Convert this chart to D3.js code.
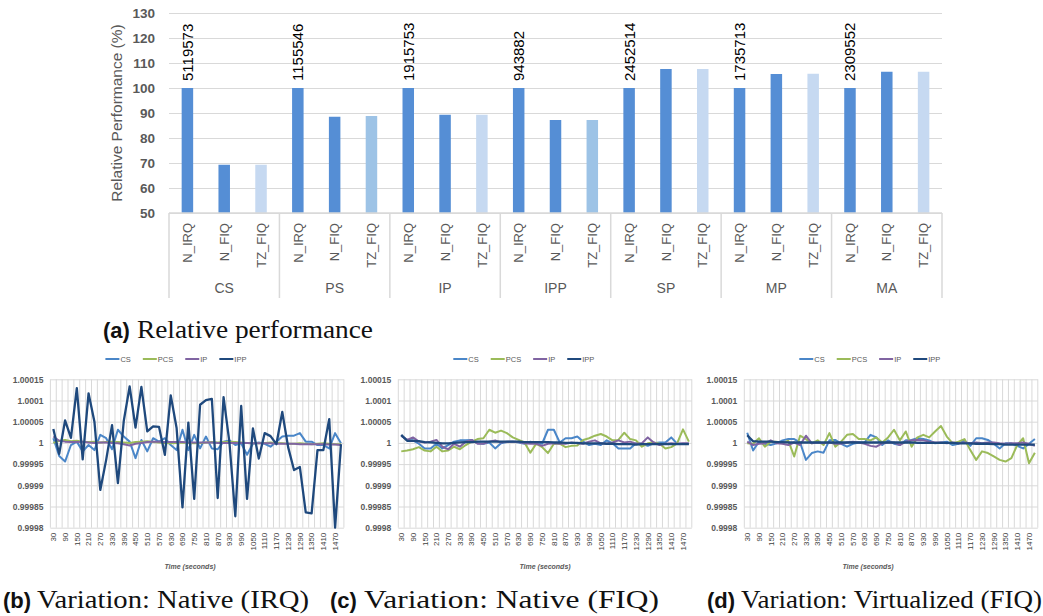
<!DOCTYPE html>
<html>
<head>
<meta charset="utf-8">
<script src="https://cdn.jsdelivr.net/npm/d3@7"></script>
<style>
  body { margin: 0; background: #fff; }
  svg { display: block; }
  text { font-family: "Liberation Sans", Arial, sans-serif; }
  .serif { font-family: "Liberation Serif", "DejaVu Serif", serif; }
</style>
</head>
<body>
<div id="figure"></div>
<script>
// ---------- data: (a) relative performance ----------
const benchmarks = ["CS", "PS", "IP", "IPP", "SP", "MP", "MA"];
const modes = ["N_IRQ", "N_FIQ", "TZ_FIQ"];
const baseCounts = [5119573, 1155546, 1915753, 943882, 2452514, 1735713, 2309552];
const perfNIrq = [100, 100, 100, 100, 100, 100, 100];
const perfNFiq = [69.3, 88.5, 89.3, 87.2, 107.6, 105.6, 106.5];
const perfTzFiq = [69.3, 88.8, 89.3, 87.2, 107.6, 105.7, 106.5];
const perfTicks = [50, 60, 70, 80, 90, 100, 110, 120, 130];

// ---------- data: (b)-(d) variation over time ----------
const times = [30, 60, 90, 120, 150, 180, 210, 240, 270, 300, 330, 360, 390, 420, 450, 480, 510, 540, 570, 600,
  630, 660, 690, 720, 750, 780, 810, 840, 870, 900, 930, 960, 990, 1020, 1050, 1080, 1110, 1140, 1170, 1200,
  1230, 1260, 1290, 1320, 1350, 1380, 1410, 1440, 1470, 1500];
const variationTicks = [0.9998, 0.99985, 0.9999, 0.99995, 1, 1.00005, 1.0001, 1.00015];
const seriesNames = ["CS", "PCS", "IP", "IPP"];

// (b) Native (IRQ)
const irqCS = [1.000011, 0.999969, 0.999956, 0.999995, 1.000003, 0.99998, 0.999995, 0.999983, 1.000019, 1.000011,
  0.999985, 1.000031, 1.000015, 1.000003, 0.999964, 1.000007, 0.99998, 1.000011, 1.000003, 1.000011,
  0.999995, 0.999983, 1.000031, 0.999983, 1.000019, 0.999987, 1.000015, 0.999987, 0.999985, 1.000003,
  1.000006, 0.999995, 0.999999, 0.999972, 0.999998, 1.000001, 0.999998, 0.999991, 1.000003, 1.000015,
  1.000017, 1.000017, 1.000023, 1.000003, 1.000003, 0.999995, 0.999995, 0.999987, 1.000023, 0.999999];
const irqPCS = [1.0, 1.000005, 1.000007, 1.000004, 1.000005, 1.000003, 1.000002, 1.000003, 1.000001, 1.000002,
  1.000003, 1.000002, 1.000001, 1.0, 1.000002, 1.000003, 1.000004, 1.000002, 1.000001, 1.0,
  0.999999, 1.0, 1.000001, 1.0, 0.999999, 1.0, 1.000001, 1.000002, 1.000001, 1.000002,
  1.000003, 1.000002, 1.000001, 1.0, 0.999999, 0.999999, 1.0, 1.000001, 1.0, 0.999999,
  0.999998, 0.999998, 0.999999, 0.999998, 0.999997, 0.999998, 0.999999, 0.999998, 0.999997, 0.999997];
const irqIP = [1.000015, 1.000005, 1.000003, 1.000002, 1.000002, 1.000003, 1.000001, 1.0, 1.000001, 1.000001,
  1.0, 0.999999, 0.999997, 0.999994, 0.999998, 1.0, 1.000002, 1.000003, 1.000003, 1.000002,
  1.000002, 1.000002, 1.000002, 1.000001, 1.000001, 1.000001, 1.000001, 1.000001, 1.0, 1.0,
  1.0, 1.0, 1.0, 1.0, 0.999999, 0.999999, 0.999999, 0.999999, 0.999998, 0.999998,
  0.999998, 0.999998, 0.999997, 0.999997, 0.999997, 0.999997, 0.999997, 0.999996, 0.999996, 0.999995];
const irqIPP = [1.000033, 0.999974, 1.000053, 1.000012, 1.000129, 0.999961, 1.000117, 1.00005, 0.999889, 0.99996,
  1.000042, 0.999905, 1.000052, 1.000133, 1.000036, 1.000132, 1.000027, 1.000039, 1.000038, 0.999972,
  1.000112, 1.000035, 0.999848, 1.000048, 0.999868, 1.00009, 1.000101, 1.000104, 0.99987, 1.000108,
  1.000001, 0.999827, 1.000087, 0.999868, 1.000034, 0.999963, 1.000023, 1.000016, 0.999997, 1.000073,
  0.99999, 0.999936, 0.999943, 0.999836, 0.999834, 0.999983, 0.999983, 1.000056, 0.9998, 0.999997];

// (c) Native (FIQ)
const fiqCS = [1.000017, 1.000007, 1.000006, 0.999998, 0.999987, 0.999987, 0.999998, 0.999987, 0.999995, 1.000003,
  1.000006, 1.000006, 1.000007, 0.999999, 0.999998, 1.000001, 0.999987, 0.999999, 1.000002, 1.000003,
  1.000001, 0.999998, 1.000003, 0.999999, 0.999998, 1.000031, 1.000031, 1.000001, 1.000011, 1.000011,
  1.000015, 1.000003, 0.999995, 0.999998, 0.999995, 1.000006, 0.999999, 0.999987, 0.999987, 0.999987,
  0.999999, 0.999998, 0.999993, 0.999999, 1.000001, 1.000001, 1.000013, 0.999998, 0.999998, 0.999998];
const fiqPCS = [0.99998, 0.999982, 0.999985, 0.99999, 0.999982, 0.99998, 0.999991, 0.99998, 0.999982, 0.999991,
  0.999985, 0.999995, 1.000003, 1.000009, 1.000011, 1.000031, 1.000024, 1.000029, 1.000023, 1.000013,
  1.000007, 1.000001, 0.999977, 0.999998, 0.99999, 0.999976, 0.999998, 0.999998, 0.99999, 0.999993,
  0.999994, 1.000007, 1.000011, 1.000017, 1.000021, 1.000015, 1.000006, 1.000007, 1.000024, 1.000009,
  1.000006, 0.999991, 0.999999, 1.000001, 0.999998, 0.999987, 0.99999, 0.999999, 1.000032, 1.000003];
const fiqIP = [1.000017, 1.000007, 1.000013, 1.000003, 1.000001, 1.000003, 1.000007, 0.999991, 0.999985, 0.999998,
  0.999991, 1.000003, 1.000007, 0.999998, 0.999998, 1.000003, 1.000006, 1.000001, 1.000003, 1.000003,
  1.000002, 0.999999, 0.999998, 0.999998, 0.999993, 0.999998, 0.999999, 0.999998, 0.999998, 1.000001,
  0.999999, 0.999998, 1.000003, 1.000006, 0.999999, 0.999998, 1.000001, 1.000006, 1.000001, 1.000003,
  0.999998, 0.999999, 1.000013, 1.000001, 0.999995, 0.999998, 0.999999, 0.999998, 0.999999, 0.999999];
const fiqIPP = [1.000019, 1.000005, 1.000005, 1.000004, 1.000002, 1.000001, 1.0, 0.999999, 0.999999, 1.0,
  1.000001, 1.000002, 1.000002, 1.000003, 1.000003, 1.000003, 1.000003, 1.000003, 1.000003, 1.000003,
  1.000003, 1.000002, 1.000002, 1.000002, 1.000002, 1.000002, 1.000001, 1.000001, 1.0, 1.0,
  1.0, 0.999999, 0.999999, 0.999999, 0.999999, 0.999998, 0.999998, 0.999997, 0.999997, 0.999997,
  0.999996, 0.999997, 0.999997, 0.999997, 0.999997, 0.999997, 0.999997, 0.999997, 0.999997, 0.999997];

// (d) Virtualized (FIQ)
const virtCS = [1.000024, 0.999982, 1.000003, 0.999998, 0.999995, 0.999999, 1.000006, 1.000009, 1.000009, 1.000001,
  0.99996, 0.999976, 0.99998, 0.999977, 1.000006, 1.000007, 0.999998, 0.999991, 0.999998, 1.000001,
  1.000001, 1.000019, 1.000013, 0.999995, 1.000006, 0.999998, 0.999995, 1.000006, 1.000007, 1.000011,
  1.000009, 1.000006, 0.999999, 1.000001, 1.000003, 0.999995, 0.999998, 1.000006, 0.999993, 1.000011,
  1.000011, 1.000007, 0.999998, 0.999987, 0.999999, 0.999999, 0.999993, 0.999987, 0.999998, 1.000009];
const virtPCS = [0.999999, 0.999998, 1.000011, 0.999991, 1.000003, 1.000003, 0.999999, 1.000005, 0.999968, 1.000017,
  1.000009, 0.999999, 1.000006, 0.999995, 1.000023, 0.999991, 1.000003, 1.000019, 1.000021, 1.000009,
  1.000009, 1.000006, 1.000013, 1.000001, 1.000013, 1.000031, 1.000006, 1.000027, 0.999991, 1.000013,
  1.000019, 1.000013, 1.000027, 1.00004, 1.000015, 0.999999, 1.000003, 1.000009, 0.999983, 0.99996,
  0.99998, 0.999976, 0.999968, 0.99996, 0.999956, 0.999964, 0.999995, 1.000011, 0.999952, 0.999977];
const virtIP = [1.000003, 0.999995, 0.999998, 0.999999, 1.000006, 0.999999, 0.999998, 0.999995, 1.000001, 0.999995,
  1.000017, 0.999999, 1.000001, 0.999999, 1.000001, 0.999998, 0.999998, 1.000001, 1.000003, 1.000001,
  0.999998, 0.999993, 0.999991, 0.999999, 1.000001, 1.000001, 0.999995, 1.000003, 1.000006, 1.000007,
  1.000006, 1.000003, 1.000001, 1.000001, 0.999999, 1.000001, 0.999999, 1.000001, 0.999999, 1.000001,
  0.999999, 1.000001, 1.000001, 0.999999, 0.999998, 0.999999, 0.999999, 1.000001, 0.999998, 0.999993];
const virtIPP = [1.000018, 1.000004, 1.000003, 1.000003, 1.000003, 1.000002, 1.000002, 1.000001, 1.000001, 1.000001,
  1.000001, 1.000001, 1.000001, 1.000001, 1.000001, 1.000001, 1.000001, 1.000001, 1.000001, 1.000001,
  1.000001, 1.000001, 1.000001, 1.000001, 1.000001, 1.000001, 1.000001, 1.000001, 1.000001, 1.0,
  1.0, 1.0, 1.0, 1.0, 1.0, 1.0, 0.999999, 0.999999, 0.999999, 0.999998,
  0.999998, 0.999998, 0.999997, 0.999997, 0.999996, 0.999996, 0.999996, 0.999996, 0.999996, 0.999996];

// ---------- styles ----------
const barBlue = "#558ed5";
const tzColors = ["#c6d9f1", "#9dc3e6", "#c6d9f1", "#9dc3e6", "#c6d9f1", "#c6d9f1", "#c6d9f1"];
const lineColors = ["#4a86c8", "#9bbb59", "#8064a2", "#1f497d"];
const gridColor = "#d9d9d9";
const labelGray = "#595959";

const svg = d3.select("#figure")
  .append("svg")
  .attr("width", 1043)
  .attr("height", 616);

// ================= (a) bar chart =================
const dimensions = {
  left: 169,
  right: 942,
  top: 13,
  bottom: 213,
};

const yScale = d3.scaleLinear()
  .domain([50, 130])
  .range([dimensions.bottom, dimensions.top]);

const groupScale = d3.scaleBand()
  .domain(benchmarks)
  .range([dimensions.left, dimensions.right]);

const modeScale = d3.scaleBand()
  .domain(modes)
  .range([0, groupScale.bandwidth()]);

const barWidth = 11.5;
const perfByMode = [perfNIrq, perfNFiq, perfTzFiq];

// gridlines
const grid = svg.append("g")
  .attr("transform", `translate(${dimensions.left},0)`)
  .call(d3.axisLeft(yScale).tickValues(perfTicks).tickSize(-(dimensions.right - dimensions.left)).tickFormat(""));
grid.select(".domain").remove();
grid.selectAll("line").attr("stroke", gridColor).attr("stroke-width", 1.2);

// y labels
const yAxis = svg.append("g")
  .attr("transform", `translate(${dimensions.left},0)`)
  .call(d3.axisLeft(yScale).tickValues(perfTicks).tickSize(0).tickPadding(14));
yAxis.select(".domain").remove();
yAxis.selectAll("text")
  .attr("fill", labelGray)
  .style("font-size", "13.5px")
  .style("font-weight", "bold")
  .style("font-family", "'Liberation Sans', Arial, sans-serif");

svg.append("text")
  .text("Relative Performance (%)")
  .attr("transform", `translate(117,${(dimensions.top + dimensions.bottom) / 2}) rotate(-90)`)
  .attr("text-anchor", "middle")
  .attr("dy", "0.35em")
  .attr("fill", labelGray)
  .style("font-size", "15.5px");

// bars
const barData = [];
benchmarks.forEach((b, i) => {
  modes.forEach((m, j) => {
    barData.push({ bench: b, mode: m, value: perfByMode[j][i], idx: i, modeIdx: j });
  });
});

const barCenter = d => groupScale(d.bench) + modeScale(d.mode) + modeScale.bandwidth() / 2;

svg.append("g").selectAll("rect")
  .data(barData)
  .join("rect")
    .attr("x", d => barCenter(d) - barWidth / 2)
    .attr("y", d => yScale(d.value))
    .attr("width", barWidth)
    .attr("height", d => yScale(50) - yScale(d.value))
    .attr("fill", d => d.modeIdx === 2 ? tzColors[d.idx] : barBlue);

// baseline axis
svg.append("line")
  .attr("x1", dimensions.left).attr("x2", dimensions.right)
  .attr("y1", dimensions.bottom).attr("y2", dimensions.bottom)
  .attr("stroke", gridColor).attr("stroke-width", 1.5);

// absolute values above N_IRQ bars
svg.append("g").selectAll("text")
  .data(barData.filter(d => d.modeIdx === 0))
  .join("text")
    .text(d => baseCounts[d.idx])
    .attr("transform", d => `translate(${barCenter(d)},${yScale(d.value) - 7}) rotate(-90)`)
    .attr("dy", "0.36em")
    .attr("fill", "#000")
    .style("font-size", "15px");

// category tick labels
svg.append("g").selectAll("text")
  .data(barData)
  .join("text")
    .text(d => d.mode)
    .attr("transform", d => `translate(${barCenter(d)},${dimensions.bottom + 10}) rotate(-90)`)
    .attr("text-anchor", "end")
    .attr("dy", "0.36em")
    .attr("fill", labelGray)
    .style("font-size", "13px");

// group separators and labels
const seps = benchmarks.map(b => groupScale(b)).concat([dimensions.right]);
svg.append("g").selectAll("line")
  .data(seps)
  .join("line")
    .attr("x1", d => d).attr("x2", d => d)
    .attr("y1", dimensions.bottom).attr("y2", 298)
    .attr("stroke", gridColor).attr("stroke-width", 1.5);

svg.append("g").selectAll("text")
  .data(benchmarks)
  .join("text")
    .text(d => d)
    .attr("x", d => groupScale(d) + groupScale.bandwidth() / 2)
    .attr("y", 293)
    .attr("text-anchor", "middle")
    .attr("fill", labelGray)
    .style("font-size", "14px");

// caption helper
function caption(x, y, tag, rest, restLen) {
  svg.append("text")
    .text(tag)
    .attr("x", x).attr("y", y)
    .attr("fill", "#111")
    .style("font-size", "22px")
    .style("font-weight", "bold")
    .style("font-family", "'Liberation Sans Narrow', 'Liberation Sans', sans-serif");
  svg.append("text")
    .text(rest)
    .attr("class", "serif")
    .attr("x", x + 34).attr("y", y)
    .attr("textLength", restLen)
    .attr("lengthAdjust", "spacingAndGlyphs")
    .attr("fill", "#111")
    .style("font-size", "25px");
}

caption(103, 338, "(a)", "Relative performance", 236);

// ================= (b)-(d) line charts =================
const panels = [
  { left: 50.4, values: [irqCS, irqPCS, irqIP, irqIPP], title: 190, tag: "(b)", text: "Variation: Native (IRQ)", capX: 3, capLen: 272 },
  { left: 398.3, values: [fiqCS, fiqPCS, fiqIP, fiqIPP], title: 545, tag: "(c)", text: "Variation: Native (FIQ)", capX: 330, capLen: 295 },
  { left: 744.3, values: [virtCS, virtPCS, virtIP, virtIPP], title: 868, tag: "(d)", text: "Variation: Virtualized (FIQ)", capX: 707, capLen: 301 },
];

const plotW = 293.5;
const plotTop = 379.3;
const plotBottom = 527.7;

function drawVariation(panel) {
  const g = svg.append("g");

  const xScale = d3.scaleBand()
    .domain(times)
    .range([panel.left, panel.left + plotW]);
  const xCenter = t => xScale(t) + xScale.bandwidth() / 2;

  const vScale = d3.scaleLinear()
    .domain([0.9998, 1.00015])
    .range([plotBottom, plotTop]);

  // horizontal grid
  const hg = g.append("g")
    .attr("transform", `translate(${panel.left},0)`)
    .call(d3.axisLeft(vScale).tickValues(variationTicks).tickSize(-plotW).tickFormat(""));
  hg.select(".domain").remove();
  hg.selectAll("line").attr("stroke", gridColor);

  // vertical grid at category edges
  g.append("g").selectAll("line")
    .data(times.map(t => xScale(t)).concat([panel.left + plotW]))
    .join("line")
      .attr("x1", d => d).attr("x2", d => d)
      .attr("y1", plotTop).attr("y2", plotBottom)
      .attr("stroke", gridColor);

  // y labels
  const ya = g.append("g")
    .attr("transform", `translate(${panel.left},0)`)
    .call(d3.axisLeft(vScale).tickValues(variationTicks).tickSize(0).tickPadding(7).tickFormat(d => String(d)));
  ya.select(".domain").remove();
  ya.selectAll("text")
    .attr("fill", labelGray)
    .style("font-size", "8.5px")
    .style("font-weight", "bold")
    .style("font-family", "'Liberation Sans', Arial, sans-serif");

  // x labels, every other category
  g.append("g").selectAll("text")
    .data(times.filter((t, i) => i % 2 === 0))
    .join("text")
      .text(d => d)
      .attr("transform", d => `translate(${xCenter(d)},${plotBottom + 5}) rotate(-90)`)
      .attr("text-anchor", "end")
      .attr("dy", "0.35em")
      .attr("fill", "#404040")
      .style("font-size", "8px");

  g.append("text")
    .text("Time (seconds)")
    .attr("x", panel.title)
    .attr("y", 569)
    .attr("text-anchor", "middle")
    .attr("fill", labelGray)
    .style("font-size", "7px")
    .style("font-style", "italic")
    .style("font-weight", "bold");

  // lines
  const line = d3.line()
    .x((d, i) => xCenter(times[i]))
    .y(d => vScale(d));

  panel.values.forEach((vals, k) => {
    g.append("path")
      .datum(vals)
      .attr("d", line)
      .attr("fill", "none")
      .attr("stroke", lineColors[k])
      .attr("stroke-width", k === 3 ? 2.3 : 2)
      .attr("stroke-linejoin", "round");
  });

  // legend
  const legend = g.append("g").attr("transform", `translate(${panel.left + 55},359)`);
  let lx = 0;
  seriesNames.forEach((name, k) => {
    legend.append("line")
      .attr("x1", lx).attr("x2", lx + 14)
      .attr("y1", 0).attr("y2", 0)
      .attr("stroke", lineColors[k])
      .attr("stroke-width", 2);
    const t = legend.append("text")
      .text(name)
      .attr("x", lx + 15)
      .attr("y", 0)
      .attr("dy", "0.35em")
      .attr("fill", labelGray)
      .style("font-size", "7.5px");
    lx += 15 + t.node().getComputedTextLength() + 12;
  });

  caption(panel.capX, 608, panel.tag, panel.text, panel.capLen);
}

panels.forEach(drawVariation);
</script>
</body>
</html>
